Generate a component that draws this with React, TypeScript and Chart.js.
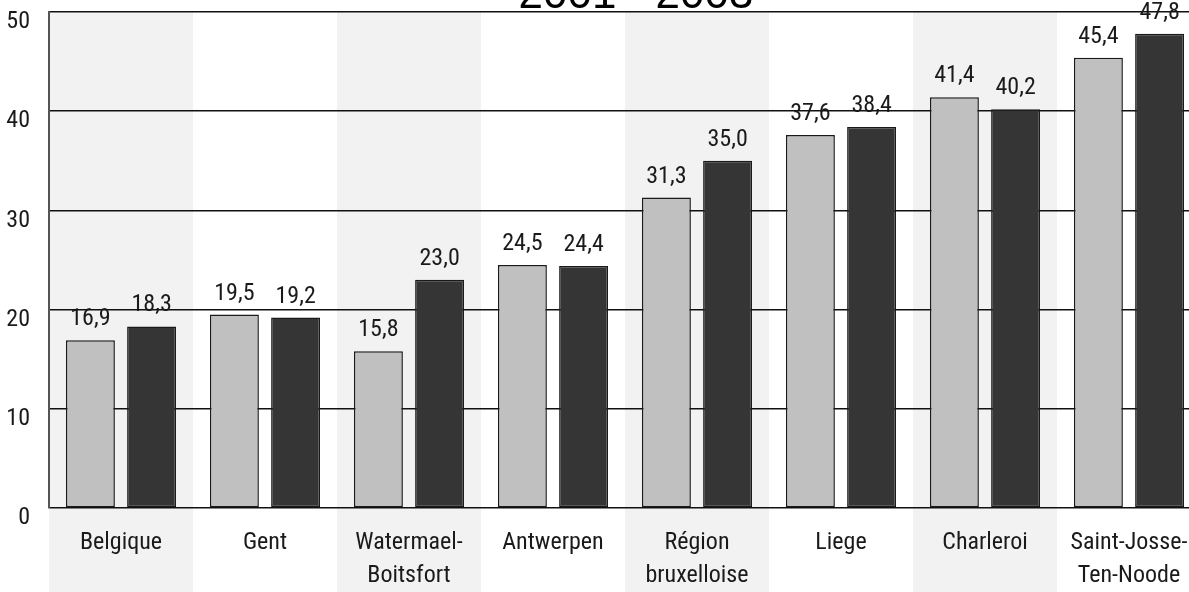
import React, { useEffect, useRef } from "react";
import { Chart, registerables } from "chart.js";

Chart.register(...registerables);

const categories: (string | string[])[] = [
  "Belgique",
  "Gent",
  ["Watermael-", "Boitsfort"],
  "Antwerpen",
  ["Région", "bruxelloise"],
  "Liege",
  "Charleroi",
  ["Saint-Josse-", "Ten-Noode"],
];
const series2001 = [16.9, 19.5, 15.8, 24.5, 31.3, 37.6, 41.4, 45.4];
const series2003 = [18.3, 19.2, 23.0, 24.4, 35.0, 38.4, 40.2, 47.8];
const yTicks = [0, 10, 20, 30, 40, 50];
const titleText = "2001 - 2003";

const NARROW = "'Roboto Condensed', 'DejaVu Sans Condensed', sans-serif";
const TEXT = "#1a1a1a";

const bandsPlugin = {
  id: "bands",
  beforeDraw(chart: any) {
    const { ctx, chartArea } = chart;
    const xs = chart.scales.x;
    ctx.save();
    ctx.fillStyle = "#f2f2f2";
    for (let i = 0; i < categories.length; i += 2) {
      const c = xs.getPixelForValue(i);
      const w = chartArea.width / categories.length;
      ctx.fillRect(c - w / 2, chartArea.top, w, chart.height - chartArea.top);
    }
    ctx.restore();
  },
};

const labelsPlugin = {
  id: "valueLabels",
  afterDatasetsDraw(chart: any) {
    const { ctx } = chart;
    ctx.save();
    ctx.font = `24px ${NARROW}`;
    ctx.fillStyle = TEXT;
    ctx.textAlign = "center";
    ctx.textBaseline = "alphabetic";
    chart.data.datasets.forEach((ds: any, di: number) => {
      const meta = chart.getDatasetMeta(di);
      meta.data.forEach((el: any, i: number) => {
        const v = ds.data[i] as number;
        ctx.fillText(v.toFixed(1).replace(".", ","), el.x, el.y - 15);
      });
    });
    ctx.restore();
  },
  afterDraw(chart: any) {
    const { ctx } = chart;
    ctx.save();
    ctx.font = "44px 'Liberation Sans', Arial, sans-serif";
    ctx.fillStyle = "#000";
    ctx.textAlign = "center";
    ctx.textBaseline = "alphabetic";
    ctx.fillText(titleText, 636, 8);
    ctx.restore();
  },
};

export default function App() {
  const ref = useRef<HTMLCanvasElement | null>(null);
  useEffect(() => {
    if (!ref.current) return;
    const chart = new Chart(ref.current, {
      type: "bar",
      data: {
        labels: categories,
        datasets: [
          {
            label: "2001",
            data: series2001,
            backgroundColor: "#c0c0c0",
            borderColor: "#1a1a1a",
            borderWidth: 1.5,
            borderSkipped: false,
            categoryPercentage: 0.85,
            barPercentage: 0.8,
          },
          {
            label: "2003",
            data: series2003,
            backgroundColor: "#353535",
            borderColor: "#1a1a1a",
            borderWidth: 1.5,
            borderSkipped: false,
            categoryPercentage: 0.85,
            barPercentage: 0.8,
          },
        ],
      },
      options: {
        responsive: false,
        animation: false,
        layout: { padding: { top: 12, left: 0, right: 0, bottom: 0 } },
        plugins: { legend: { display: false }, tooltip: { enabled: false } },
        scales: {
          x: {
            grid: { display: false, drawTicks: false },
            border: { display: false },
            ticks: {
              font: { family: NARROW, size: 24, lineHeight: 1.375 },
              color: TEXT,
              padding: 18,
              maxRotation: 0,
              autoSkip: false,
            },
            afterFit(scale: any) {
              scale.height = 84;
              scale.paddingLeft = 0;
              scale.paddingRight = 0;
            },
          },
          y: {
            min: 0,
            max: 50,
            afterBuildTicks(scale: any) {
              scale.ticks = yTicks.map((v) => ({ value: v }));
            },
            grid: { color: "#111", lineWidth: 1.5, drawTicks: false },
            border: { display: true, color: "#555", width: 2 },
            ticks: {
              font: { family: NARROW, size: 24, lineHeight: 0.85 },
              color: TEXT,
              padding: 19,
              callback: (v: any) => ["", String(v)],
            },
            afterFit(scale: any) {
              scale.width = 49;
              scale.paddingTop = 0;
              scale.paddingBottom = 0;
            },
          },
        },
      },
      plugins: [bandsPlugin, labelsPlugin],
    });
    return () => chart.destroy();
  }, []);
  return (
    <div style={{ position: "fixed", left: 0, top: 0, width: 1189, height: 592, overflow: "hidden", background: "#fff" }}>
      <canvas ref={ref} width={1201} height={592} style={{ display: "block" }} />
    </div>
  );
}
